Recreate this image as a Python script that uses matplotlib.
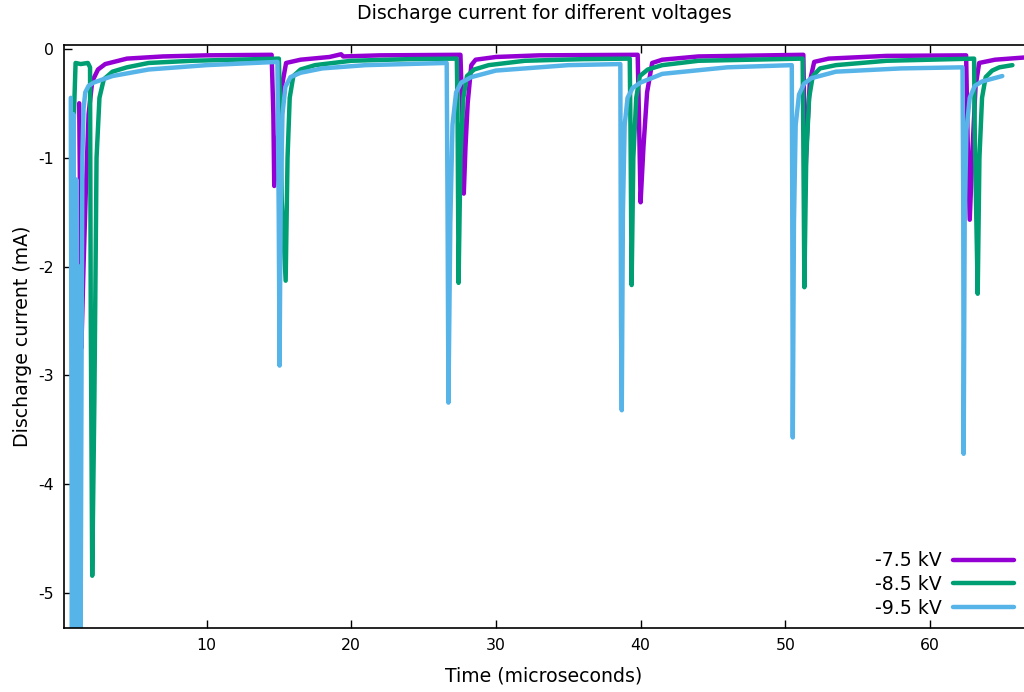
import matplotlib
matplotlib.use("Agg")
import matplotlib.pyplot as plt

plt.rcParams['font.family'] = ['DejaVu Sans']
plt.rcParams['axes.unicode_minus'] = False

# Time (microseconds) and discharge current (mA)
t_75 = [1.2, 1.35, 1.5, 1.66, 1.85, 2.1, 2.5, 3.0, 4.5, 7.0, 10.0, 14.5,
        14.62, 14.68, 14.95, 15.2, 15.5, 16.5, 18.5, 19.3, 19.45, 22.0, 27.55,
        27.68, 27.78, 27.9, 28.05, 28.3, 28.6, 30.0, 33.0, 39.8,
        39.9, 40.0, 40.2, 40.45, 40.8, 41.5, 44.0, 51.25,
        51.32, 51.38, 51.5, 51.7, 52.0, 53.0, 57.0, 62.5,
        62.6, 62.75, 62.95, 63.15, 63.4, 64.5, 66.5]
i_75 = [-0.5, -2.75, -2.0, -1.3, -0.6, -0.3, -0.19, -0.14, -0.09, -0.07, -0.06, -0.055,
        -0.6, -1.26, -0.8, -0.35, -0.13, -0.1, -0.075, -0.05, -0.07, -0.06, -0.055,
        -0.6, -1.33, -0.9, -0.5, -0.15, -0.1, -0.075, -0.06, -0.055,
        -0.7, -1.41, -0.9, -0.4, -0.13, -0.1, -0.07, -0.055,
        -0.7, -1.2, -0.8, -0.3, -0.12, -0.09, -0.065, -0.06,
        -0.8, -1.57, -0.9, -0.35, -0.13, -0.1, -0.08]

t_85 = [0.76, 0.95, 1.3, 1.8, 1.95, 2.0, 2.1, 2.25, 2.4, 2.6, 2.9, 3.5, 4.5, 6.0, 9.0, 15.0,
        15.1, 15.2, 15.47, 15.6, 15.75, 16.0, 16.5, 17.5, 20.0, 24.0, 27.3,
        27.35, 27.42, 27.55, 27.75, 28.0, 28.5, 29.5, 32.0, 36.0, 39.25,
        39.3, 39.38, 39.5, 39.7, 39.95, 40.5, 41.5, 44.0, 51.2,
        51.24, 51.32, 51.45, 51.65, 51.9, 52.4, 53.5, 57.0, 63.05,
        63.1, 63.3, 63.42, 63.6, 63.85, 64.3, 64.8, 65.7]
i_85 = [-0.93, -0.13, -0.14, -0.13, -0.17, -2.5, -4.84, -3.23, -1.0, -0.45, -0.28, -0.21, -0.17, -0.13, -0.11, -0.09,
        -0.6, -1.4, -2.13, -1.0, -0.45, -0.25, -0.19, -0.15, -0.11, -0.095, -0.09,
        -0.6, -2.15, -1.0, -0.45, -0.25, -0.19, -0.15, -0.11, -0.095, -0.09,
        -0.7, -2.17, -1.0, -0.45, -0.25, -0.19, -0.15, -0.11, -0.09,
        -0.7, -2.19, -1.0, -0.45, -0.25, -0.18, -0.15, -0.11, -0.09,
        -0.8, -2.25, -1.0, -0.45, -0.26, -0.2, -0.17, -0.15]

t_95 = [0.62, 0.7, 0.8, 0.9, 1.0, 1.1, 1.2, 1.3, 1.36, 1.42, 1.5, 1.62, 1.85, 2.2, 3.5, 6.0, 10.0, 14.9,
        14.99, 15.05, 15.12, 15.25, 15.45, 15.8, 16.5, 18.0, 21.0, 26.6,
        26.66, 26.72, 26.85, 27.0, 27.25, 27.6, 28.3, 30.0, 35.0, 38.6,
        38.65, 38.7, 38.78, 38.9, 39.1, 39.45, 40.0, 41.5, 46.0, 50.45,
        50.48, 50.52, 50.6, 50.72, 50.95, 51.3, 51.8, 53.5, 58.0, 62.25,
        62.3, 62.33, 62.4, 62.52, 62.75, 63.1, 63.6, 65.0]
i_95 = [-0.45, -5.4, -0.6, -5.4, -1.2, -5.4, -2.0, -5.4, -3.0, -1.0, -0.55, -0.4, -0.34, -0.31, -0.25, -0.19, -0.15, -0.12,
        -1.5, -2.91, -1.5, -0.6, -0.35, -0.26, -0.22, -0.18, -0.15, -0.13,
        -1.5, -3.25, -1.6, -0.7, -0.4, -0.31, -0.26, -0.2, -0.15, -0.14,
        -2.55, -3.32, -1.5, -0.7, -0.45, -0.36, -0.31, -0.23, -0.17, -0.15,
        -1.32, -3.57, -1.6, -0.7, -0.42, -0.32, -0.27, -0.21, -0.18, -0.17,
        -1.4, -3.72, -1.6, -0.75, -0.45, -0.34, -0.3, -0.25]

labels = ['-7.5 kV', '-8.5 kV', '-9.5 kV']
colors = ['#9400D3', '#009E73', '#56B4E9']

fig = plt.figure(figsize=(10.24, 6.92), dpi=100)
ax = fig.add_axes([64 / 1024, 64 / 692, 960 / 1024, 583 / 692])

for t, i, lab, col in zip([t_75, t_85, t_95], [i_75, i_85, i_95], labels, colors):
    ax.plot(t, i, color=col, lw=3.2, label=lab, solid_capstyle='round', solid_joinstyle='round')

ax.set_xlim(0.15, 66.5)
ax.set_ylim(-5.32, 0.035)
ax.set_xticks([10, 20, 30, 40, 50, 60])
ax.set_yticks([0, -1, -2, -3, -4, -5])
ax.tick_params(direction='in', length=6, width=1, labelsize=11.3, top=True, right=False, pad=7)
ax.spines['right'].set_visible(False)
for s in ['left', 'bottom', 'top']:
    ax.spines[s].set_linewidth(1.2)

ax.set_title('Discharge current for different voltages', fontsize=13.6, pad=19)
ax.set_xlabel('Time (microseconds)', fontsize=13.6, labelpad=10)
ax.set_ylabel('Discharge current (mA)', fontsize=13.6, labelpad=5)

fig.legend(loc='lower right', bbox_to_anchor=(1023 / 1024, 65 / 692), frameon=False,
           markerfirst=False, fontsize=13.6, handlelength=3.2, labelspacing=0.25,
           borderpad=0, handletextpad=0.6)

fig.savefig('out.png', dpi=100)
